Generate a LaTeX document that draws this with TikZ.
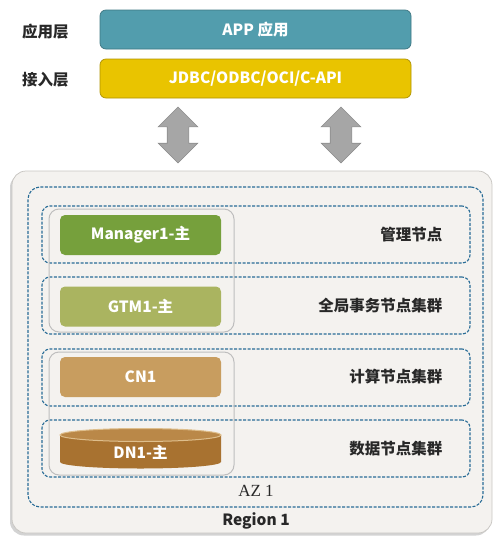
\documentclass[tikz,border=0pt]{standalone}
\usepackage{fontspec}
\setmainfont{Noto Sans CJK SC}
\newfontfamily\azfont{Liberation Serif}
\usetikzlibrary{shapes.arrows,shadows}

\definecolor{appteal}{RGB}{82,157,173}
\definecolor{apiyellow}{RGB}{233,196,0}
\definecolor{mgrgreen}{RGB}{118,160,60}
\definecolor{gtmgreen}{RGB}{170,180,96}
\definecolor{cnbrown}{RGB}{200,157,95}
\definecolor{dnbrown}{RGB}{168,114,48}
\definecolor{dntopbrown}{RGB}{186,136,72}
\definecolor{regionfill}{RGB}{244,242,239}
\definecolor{azblue}{RGB}{40,108,150}
\definecolor{labelgray}{RGB}{40,40,40}

\newcommand{\lblfont}{\fontsize{15.5}{18}\selectfont\bfseries}

\tikzset{every picture/.style={line width=0.75pt}}

\begin{document}
\begin{tikzpicture}[x=1pt,y=1pt,yscale=-1,xscale=1,
  layerbar/.style={rounded corners=6pt,minimum width=311pt,minimum height=39pt,inner sep=0pt,text=white,font=\lblfont},
  layername/.style={font=\lblfont,text=labelgray},
  updown/.style={double arrow,rotate=90,fill={rgb,255:red,166;green,166;blue,166},draw={rgb,255:red,140;green,140;blue,140},line width=0.6pt,minimum height=56pt,inner xsep=0pt,inner ysep=10.5pt,double arrow head extend=9pt},
  dashbox/.style={draw=azblue,line width=1.1pt,dash pattern=on 3pt off 1.5pt,rounded corners=8pt,inner sep=0pt},
  groupbox/.style={draw={rgb,255:red,190;green,190;blue,190},line width=1pt,rounded corners=10pt,minimum width=185pt,minimum height=123pt,inner sep=0pt},
  compbox/.style={rounded corners=5pt,minimum width=161pt,minimum height=40pt,inner sep=0pt,text=white,font=\lblfont},
  rowlabel/.style={anchor=east,font=\lblfont,text=labelgray}]
	\useasboundingbox (0,0) rectangle (494,539);
	
	%Shape: Layer bars
	\node [layerbar,fill=appteal,draw=appteal!75!black] (app) at (255.5,29.5) {APP 应用};
	\node [layerbar,fill=apiyellow,draw=apiyellow!75!black] (api) at (255.5,78.5) {JDBC/ODBC/OCI/C-API};
	% Text Node
	\node [layername] (applbl) at (45.5,32) {应用层};
	% Text Node
	\node [layername] (apilbl) at (45.5,80) {接入层};
	
	%Shape: Double arrows
	\node [updown] (arrowl) at (178,135) {};
	\node [updown] (arrowr) at (341,135) {};
	
	%Shape: Region box
	\node [draw={rgb,255:red,200;green,198;blue,194},fill=regionfill,rounded corners=14pt,minimum width=480pt,minimum height=362pt,inner sep=0pt,
	  drop shadow={shadow xshift=-2pt,shadow yshift=-2.5pt,opacity=0.35,fill=gray}] (region) at (252,352) {};
	% Text Node
	\node [font=\lblfont,text=labelgray] (regionlbl) at (256,521) {Region 1};
	
	%Shape: AZ box
	\node [dashbox,rounded corners=12pt,minimum width=455pt,minimum height=320pt] (az) at (255.5,347) {};
	% Text Node
	\node [font=\azfont\fontsize{17}{19}\selectfont,text=labelgray] (azlbl) at (256,491) {AZ 1};
	
	%Shape: Row boxes
	\node [dashbox,minimum width=428pt,minimum height=57pt] (mgrrow) at (256,234.5) {};
	\node [dashbox,minimum width=428pt,minimum height=57pt] (gtmrow) at (256,305.5) {};
	\node [dashbox,minimum width=428pt,minimum height=57pt] (cnrow) at (256,377.5) {};
	\node [dashbox,minimum width=428pt,minimum height=57pt] (dnrow) at (256,448.5) {};
	
	%Shape: Group boxes
	\node [groupbox] (grpupper) at (141.5,270.5) {};
	\node [groupbox] (grplower) at (141.5,413.5) {};
	
	%Shape: Component boxes
	\node [compbox,fill=mgrgreen] (mgr) at (140.5,235) {Manager1-主};
	\node [compbox,fill=gtmgreen] (gtm) at (140.5,306.5) {GTM1-主};
	\node [compbox,fill=cnbrown] (cn) at (140.5,377) {CN1};
	
	%Shape: Cylinder
	\fill [dnbrown] (60,435) -- (60,462) arc [start angle=180,end angle=0,x radius=80.5,y radius=6.5] -- (221,435) -- cycle ;
	\draw [fill=dntopbrown,draw={rgb,255:red,222;green,190;blue,140},line width=1pt] (140.5,435) ellipse [x radius=80.5,y radius=6.5] ;
	% Text Node
	\node [font=\lblfont,text=white] (dn) at (140.5,452) {DN1-主};
	
	% Text Node
	\node [rowlabel] (mgrlbl) at (446,235) {管理节点};
	% Text Node
	\node [rowlabel] (gtmlbl) at (446,306) {全局事务节点集群};
	% Text Node
	\node [rowlabel] (cnlbl) at (446,377) {计算节点集群};
	% Text Node
	\node [rowlabel] (dnlbl) at (446,449) {数据节点集群};
	
\end{tikzpicture}
\end{document}
